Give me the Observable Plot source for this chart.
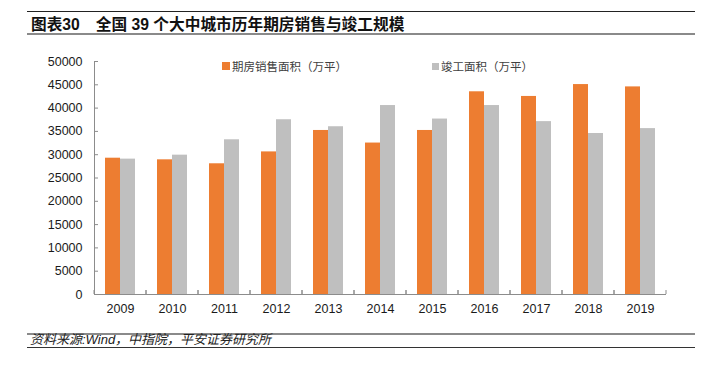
<!DOCTYPE html>
<html>
<head>
<meta charset="utf-8">
<script src="https://cdn.jsdelivr.net/npm/d3@7"></script>
<script src="https://cdn.jsdelivr.net/npm/@observablehq/plot@0.6"></script>
<style>
  html, body { margin: 0; padding: 0; background: #fff; }
  body { width: 711px; height: 373px; position: relative; overflow: hidden; font-family: "Liberation Sans", "Noto Sans CJK SC", sans-serif; }
  .rule { position: absolute; left: 27px; width: 668px; }
  #title { position: absolute; left: 31px; top: 14.5px; font-family: "Liberation Sans", "Noto Sans CJK SC", sans-serif; font-weight: bold; font-size: 15.7px; line-height: 20px; color: #111; white-space: nowrap; }
  #title .num { margin-right: 16px; }
  #legend { position: absolute; top: 58px; left: 0; font-family: "Noto Sans CJK SC", sans-serif; font-size: 11.5px; color: #404040; }
  .li { position: absolute; white-space: nowrap; line-height: 16px; display: flex; align-items: center; }
  .sw { display: inline-block; margin-right: 2px; }
  #caption { position: absolute; left: 30px; top: 332px; font-family: "Liberation Sans", "Noto Sans CJK SC", sans-serif; font-style: italic; font-size: 13px; line-height: 16px; color: #222; white-space: nowrap; }
  #chart { position: absolute; left: 0; top: 50px; }
</style>
</head>
<body>
<div class="rule" style="top:10.5px;height:1px;background:#222;"></div>
<div id="title"><span class="num">图表30</span>全国 39 个大中城市历年期房销售与竣工规模</div>
<div class="rule" style="top:33px;height:2px;background:#8a8a8a;"></div>
<div id="chart"></div>
<div id="legend"></div>
<div class="rule" style="top:333px;height:1.5px;background:#8a8a8a;"></div>
<div id="caption">资料来源:Wind，中指院，平安证券研究所</div>
<div class="rule" style="top:346.5px;height:1.5px;background:#333;"></div>
<script>
// ---- data ----
const years = ["2009", "2010", "2011", "2012", "2013", "2014", "2015", "2016", "2017", "2018", "2019"];
const seriesNames = ["期房销售面积（万平）", "竣工面积（万平）"];
const salesArea = [29250, 28900, 28050, 30600, 35200, 32500, 35200, 43500, 42500, 45050, 44550];
const completedArea = [29050, 29900, 33200, 37500, 36000, 40550, 37650, 40550, 37100, 34550, 35600];
const yTicks = [0, 5000, 10000, 15000, 20000, 25000, 30000, 35000, 40000, 45000, 50000];
const seriesColors = ["#ED7D31", "#BFBFBF"];

const data = years.flatMap((year, i) => [
  {year, series: seriesNames[0], value: salesArea[i]},
  {year, series: seriesNames[1], value: completedArea[i]}
]);

const axisColor = "#8c8c8c";

// short inward ticks at the category band boundaries
function bandTicks(index, scales, values, dimensions) {
  const {width, marginLeft, marginRight} = dimensions;
  const y0 = scales.y(0);
  const g = d3.create("svg:g").attr("stroke", axisColor).attr("stroke-width", 1);
  for (const x of [marginLeft, width - marginRight]) {
    g.append("line").attr("x1", x).attr("x2", x).attr("y1", y0).attr("y2", y0 - 4);
  }
  return g.node();
}

const chart = Plot.plot({
  width: 711,
  height: 280,
  marginLeft: 93,
  marginRight: 44,
  marginTop: 11,
  marginBottom: 36,
  style: {fontFamily: "'Liberation Sans', Arial, sans-serif", fontSize: "12.5px", color: "#1a1a1a", background: "transparent"},
  fx: {domain: years, padding: 0, label: null},
  x: {domain: seriesNames, paddingInner: 0, paddingOuter: 0.63, axis: null},
  y: {domain: [0, 50000], label: null},
  color: {domain: seriesNames, range: seriesColors},
  marks: [
    Plot.barY(data, {fx: "year", x: "series", y: "value", fill: "series"}),
    Plot.ruleY([0], {stroke: axisColor}),
    Plot.frame({anchor: "left", facetAnchor: "left", stroke: axisColor}),
    bandTicks,
    Plot.axisY({ticks: yTicks, tickSize: -4, tickFormat: () => "", stroke: axisColor, label: null}),
    Plot.axisY({ticks: yTicks, tickSize: 0, tickPadding: 12, tickFormat: d => `${d}`, label: null, fontSize: 12.5}),
    Plot.axisFx({anchor: "bottom", tickSize: 0, tickPadding: 10, label: null, fontSize: 12.5})
  ]
});
document.getElementById("chart").appendChild(chart);

// legend (HTML, above the plot area)
const legend = d3.select("#legend");
const legendX = [222, 432];
const swatchSize = [8, 7];
seriesNames.forEach((name, i) => {
  const item = legend.append("div").attr("class", "li").style("left", legendX[i] + "px").style("top", "0px");
  item.append("span").attr("class", "sw")
    .style("width", swatchSize[i] + "px").style("height", swatchSize[i] + "px")
    .style("background", seriesColors[i]);
  item.append("span").text(name);
});
</script>
</body>
</html>
